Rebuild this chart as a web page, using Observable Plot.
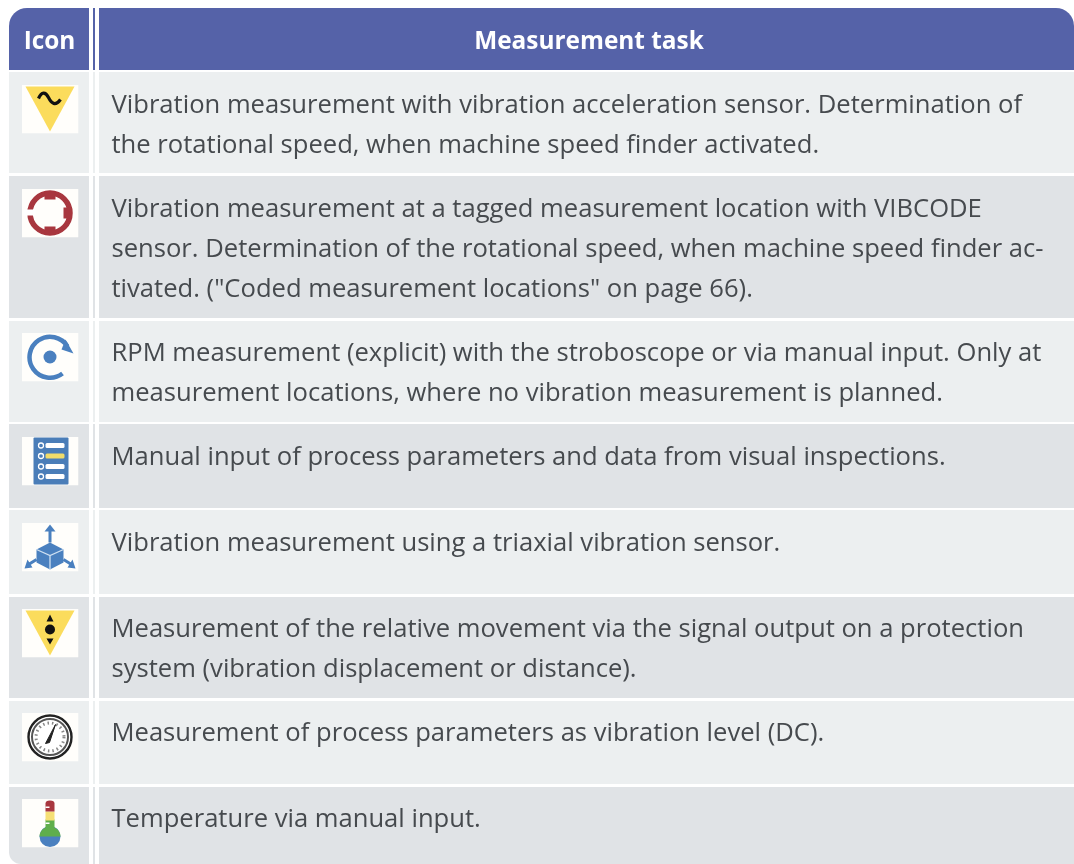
<!DOCTYPE html>
<html>
<head>
<meta charset="utf-8">
<script src="https://cdn.jsdelivr.net/npm/d3@7"></script>
<script src="https://cdn.jsdelivr.net/npm/@observablehq/plot@0.6"></script>
<style>
html,body{margin:0;padding:0;background:#fff}
svg{display:block}
</style>
</head>
<body>
<div id="chart"></div>
<script>
const headers = ["Icon", "Measurement task"];
const iconNames = ["sine", "coded", "rpm", "list", "triax", "relative", "gauge", "thermo"];
const taskLines = [
  ["Vibration measurement with vibration acceleration sensor. Determination of",
   "the rotational speed, when machine speed finder activated."],
  ["Vibration measurement at a tagged measurement location with VIBCODE",
   "sensor. Determination of the rotational speed, when machine speed finder ac-",
   "tivated. (\"Coded measurement locations\" on page 66)."],
  ["RPM measurement (explicit) with the stroboscope or via manual input. Only at",
   "measurement locations, where no vibration measurement is planned."],
  ["Manual input of process parameters and data from visual inspections."],
  ["Vibration measurement using a triaxial vibration sensor."],
  ["Measurement of the relative movement via the signal output on a protection",
   "system (vibration displacement or distance)."],
  ["Measurement of process parameters as vibration level (DC)."],
  ["Temperature via manual input."]
];

// Table layout (pixel grid of the page)
const W = 1074, H = 864;
const rowTop = [72, 176, 321, 424, 510, 597, 701, 787];
const rowBottom = [173, 318, 422, 508, 594, 698, 784, 864];
const textTop = [104, 208, 352, 456, 542, 628, 732, 818];
const tileTop = [84, 188, 332, 436, 522, 608, 712, 798];
const columns = [[9, 89], [93, 95], [99, 1074]];
const headerBand = [8, 70];
const rowFill = ["#eceff0", "#e0e3e6"];
const tileW = 57, tileH = 49;

const tile = body => "data:image/svg+xml," + encodeURIComponent(
  `<svg xmlns="http://www.w3.org/2000/svg" width="${tileW}" height="${tileH}" viewBox="0 0 57 49"><rect width="57" height="49" fill="#fffefb"/>${body}</svg>`);

const yel = "#fbdc5c", red = "#a8373f", blu = "#4a80bf";
const icons = {
  sine: `<path d="M4 2H53L28.500 47Z" fill="${yel}"/><path d="M17 14C20 7 24 7 27 13S34 22 39 15" fill="none" stroke="#111" stroke-width="3.200"/>`,
  coded: `<circle cx="28.500" cy="24.500" r="20" fill="none" stroke="${red}" stroke-width="5.500"/>
    <rect x="23" y="3" width="11" height="8" fill="${red}"/><rect x="23" y="38" width="11" height="8" fill="${red}"/>
    <rect x="42" y="19" width="8" height="11" fill="${red}"/><rect x="2" y="21" width="12" height="6" fill="#fff"/>`,
  rpm: `<path d="M41 41A20.500 20.500 0 1 1 46 14" fill="none" stroke="${blu}" stroke-width="4.500"/><path d="M44 7L52 21L40 17Z" fill="${blu}"/><circle cx="28.500" cy="24.500" r="6.500" fill="${blu}"/>`,
  list: `<rect x="12" y="1" width="35" height="47" rx="1" fill="#4a7db8"/>` +
    [9, 19.500, 30, 40].map((y, i) => `<circle cx="19.500" cy="${y}" r="2.500" fill="none" stroke="#fff" stroke-width="1.300"/><rect x="24" y="${y - 2.500}" width="19" height="5" rx="1.500" fill="${i === 1 ? "#f1dc6a" : "#fff"}"/>`).join(""),
  triax: `<path d="M28.500 20V7" stroke="${blu}" stroke-width="3"/><path d="M28.500 2L34 9H23Z" fill="${blu}"/>
    <path d="M15 37L7 42M42 37L50 42" stroke="${blu}" stroke-width="3"/><path d="M3 46L6 37L11 45Z M54 46L51 37L46 45Z" fill="${blu}"/>
    <path d="M28.500 20L42 27V40L28.500 47L15 40V27Z" fill="${blu}"/><path d="M15 27L28.500 33L42 27M28.500 33V47" fill="none" stroke="#cfe0f2" stroke-width="1.300"/>`,
  relative: `<path d="M4 2H53L28.500 47Z" fill="${yel}"/><circle cx="28.500" cy="21" r="5" fill="#111"/><path d="M28.500 6L32 13H25Z M28.500 36L25 30H32Z" fill="#111"/>`,
  gauge: `<circle cx="28.500" cy="24.500" r="21.500" fill="#fff" stroke="#222" stroke-width="2.400"/><circle cx="28.500" cy="24.500" r="18" fill="none" stroke="#555" stroke-width="2"/><circle cx="28.500" cy="24.500" r="14" fill="none" stroke="#888" stroke-width="3" stroke-dasharray="1.500 3"/><path d="M24 31L34 12L28 30Z" fill="#222" stroke="#222" stroke-width="1"/>`,
  thermo: `<circle cx="28.500" cy="38" r="10.500" fill="${blu}"/><path d="M18 38A10.500 10.500 0 0 1 24 29V21H33V29A10.500 10.500 0 0 1 39 38Z" fill="#5fae4c"/>
    <rect x="24" y="13" width="9" height="9" fill="#f6df74"/><path d="M24 13V5A4.500 3 0 0 1 33 5V13Z" fill="${red}"/>
    <rect x="24" y="8" width="4" height="1.500" fill="#fff"/><rect x="24" y="24" width="4" height="1.500" fill="#fff"/>`
};

const bands = rowTop.flatMap((t, i) => columns.map(([x1, x2]) => ({x1, x2, y1: t, y2: rowBottom[i], fill: rowFill[i % 2]})));
const headBands = columns.map(([x1, x2]) => ({x1, x2, y1: headerBand[0], y2: headerBand[1]}));
const lines = taskLines.flatMap((ls, i) => ls.map((text, j) => ({text, x: 111, y: textTop[i] + j * 40})));
const tiles = iconNames.map((name, i) => ({src: tile(icons[name]), x: 49.500, y: tileTop[i] + tileH / 2}));

const chart = Plot.plot({
  width: W, height: H,
  margin: 0,
  x: {domain: [0, W], range: [0, W], axis: null},
  y: {domain: [0, H], range: [0, H], axis: null},
  style: {background: "#fff", clipPath: "inset(8px 0 0 9px round 18px 18px 0 12px)", filter: "blur(0.3px)"},
  marks: [
    Plot.rect(headBands, {x1: "x1", x2: "x2", y1: "y1", y2: "y2", fill: "#5562a8"}),
    Plot.rect(bands, {x1: "x1", x2: "x2", y1: "y1", y2: "y2", fill: "fill"}),
    Plot.text(headers, {x: (d, i) => [49, 588.500][i], y: 41, text: d => d, fill: "#fff", fontSize: 24.400, fontWeight: 700, fontFamily: "Open Sans"}),
    Plot.text(lines, {x: "x", y: "y", text: "text", textAnchor: "start", fill: "#464a4e", fontSize: 25.600, fontFamily: "Open Sans"}),
    Plot.image(tiles, {x: "x", y: "y", src: "src", width: tileW, height: tileH, preserveAspectRatio: "none"})
  ]
});
document.getElementById("chart").append(chart);
</script>
</body>
</html>
